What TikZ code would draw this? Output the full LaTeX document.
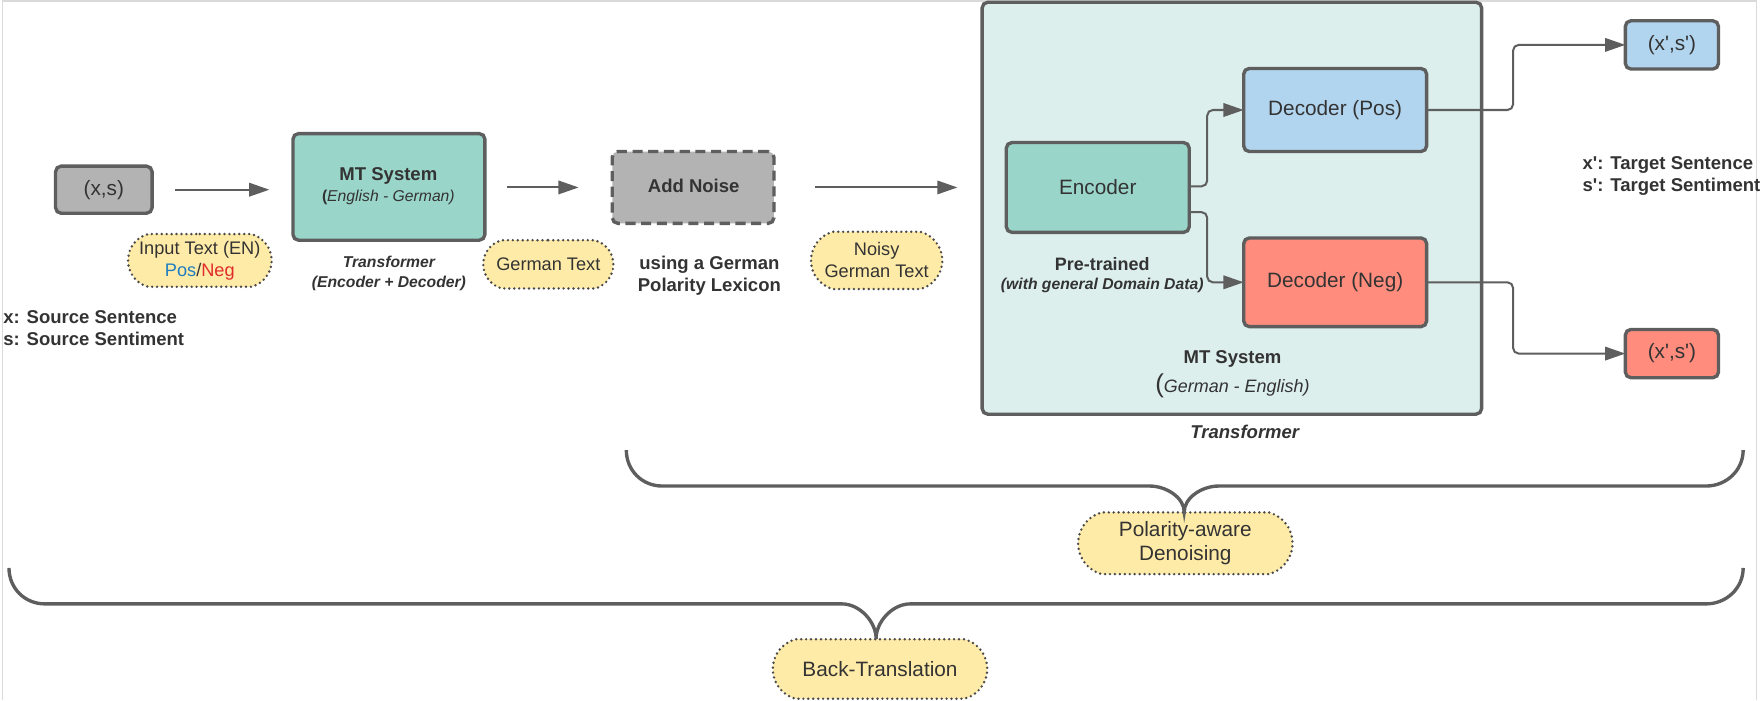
\documentclass[tikz,border=0pt]{standalone}
\usepackage{fontspec}
\setmainfont{Liberation Sans}[Ligatures=TeXOff]
\usetikzlibrary{arrows.meta,shapes.misc}
\definecolor{lineC}{HTML}{5E5E5E}
\definecolor{dotC}{HTML}{4A4A4A}
\definecolor{txtC}{HTML}{333333}
\definecolor{grayF}{HTML}{B3B3B3}
\definecolor{tealF}{HTML}{9AD5CA}
\definecolor{contF}{HTML}{DCEFEC}
\definecolor{blueF}{HTML}{B2D5EF}
\definecolor{redF}{HTML}{FF8C7D}
\definecolor{yelF}{HTML}{FFEBA8}
\definecolor{posC}{HTML}{1F7DBF}
\definecolor{negC}{HTML}{E02B2B}
\definecolor{frameC}{HTML}{DADADA}
\begin{document}
\begin{tikzpicture}[x=1pt,y=-1pt,
  box/.style={draw=lineC, line width=3pt, rounded corners=5pt, inner sep=0pt, outer sep=0pt, text=txtC, align=center},
  capsule/.style={rounded rectangle, rounded rectangle arc length=150, draw=dotC, fill=yelF, line width=2.4pt, dash pattern=on 0pt off 4.4pt, line cap=round, inner sep=0pt, outer sep=0pt, text=txtC, align=center},
  arr/.style={draw=lineC, line width=1.8pt, -{Triangle[length=18pt,width=12pt]}},
  bracepath/.style={draw=lineC, line width=3pt},
  lbl/.style={inner sep=0pt, outer sep=0pt, text=txtC, align=center},
  tbig/.style={font=\fontsize{18.5}{22}\selectfont},
  tmid/.style={font=\fontsize{16.2}{19.5}\selectfont},
  tbold/.style={font=\bfseries\fontsize{16.5}{19.5}\selectfont},
  tbi/.style={font=\bfseries\itshape\fontsize{14}{17.4}\selectfont},
  tbibig/.style={font=\bfseries\itshape\fontsize{16.5}{19.5}\selectfont},
]
\useasboundingbox (0,0) rectangle (1568,624);
% faint frame of the screenshot
\draw[frameC, line width=1.2pt] (2,624) -- (2,1) -- (1565,1) -- (1565,624);

% ---- left part
\node[box, fill=grayF, minimum width=86pt, minimum height=42pt, tbig] (xs) at (92.5,169) {(x,s)};
\node[box, fill=tealF, minimum width=171pt, minimum height=95pt] (mt1) at (346.5,166.5) {};
\node[lbl, tbold] (mt1a) at (346,157) {MT System};
\node[lbl, font=\fontsize{14}{17}\selectfont] (mt1b) at (346,175.5) {{\bfseries(}\itshape English - German)};
\node[lbl, tbi] (tr1) at (346.5,243.5) {Transformer\\(Encoder + Decoder)};
\node[capsule, minimum width=128pt, minimum height=47pt, tmid] (inp) at (178,232) {Input Text (EN)\\\textcolor{posC}{Pos}/\textcolor{negC}{Neg}};
\node[lbl, tbold, anchor=west, align=left] (src) at (3,292) {x: Source Sentence\\s: Source Sentiment};

\node[capsule, minimum width=116pt, minimum height=43pt, tmid] (ger) at (488.5,235.5) {German Text};
\node[box, fill=grayF, dash pattern=on 9pt off 5pt, minimum width=144pt, minimum height=64pt] (noise) at (617.5,167) {};
\node[lbl, tbold] (noiset) at (618,165.5) {Add Noise};
\node[lbl, tbold] (lex) at (632,245.5) {using a German\\Polarity Lexicon};
\node[capsule, minimum width=117pt, minimum height=51pt, tmid] (noisy) at (781,232) {Noisy\\German Text};

% ---- container
\node[box, fill=contF, minimum width=445pt, minimum height=367pt] (cont) at (1097.5,185.5) {};
\node[box, fill=tealF, minimum width=163pt, minimum height=80pt, tbig] (enc) at (978,167) {Encoder};
\node[box, fill=blueF, minimum width=163pt, minimum height=74pt, tbig] (decpos) at (1189.5,98) {Decoder (Pos)};
\node[box, fill=redF, minimum width=163pt, minimum height=79pt, tbig] (decneg) at (1189.5,251.5) {Decoder (Neg)};
\node[lbl, font=\bfseries\fontsize{16}{19}\selectfont] (pre) at (982,235.6) {Pre-trained};
\node[lbl, tbi] (pre2) at (982,254) {(with general Domain Data)};
\node[lbl, tbold] (mt2a) at (1098,320) {MT System};
\node[lbl, font=\fontsize{16}{19}\selectfont] (mt2b) at (1098,343.5) {{\fontsize{23}{23}\selectfont(}\itshape German - English)};
\node[lbl, tbibig] (tr2) at (1109,385) {Transformer};

% ---- outputs
\node[box, fill=blueF, minimum width=83pt, minimum height=43pt, tbig] (outpos) at (1489.5,40) {(x',s')};
\node[box, fill=redF, minimum width=83pt, minimum height=43pt, tbig] (outneg) at (1489.5,315) {(x',s')};
\node[lbl, tbold, anchor=west, align=left] (tgt) at (1410,156.5) {x': Target Sentence\\s': Target Sentiment};

% ---- connectors
\draw[arr] ([xshift=20.5pt]xs.east) -- ([xshift=-21pt]xs.east -| mt1.west);
\draw[arr] ([xshift=20pt]mt1.east |- noise.west) -- ([xshift=-30pt]noise.west);
\draw[arr] ([xshift=37pt]noise.east) -- ([xshift=-22pt]noise.east -| cont.west);
\draw[arr, rounded corners=5pt] ([yshift=1pt]enc.east) -- ++(16,0) |- (decpos.west);
\draw[arr, rounded corners=5pt] ([yshift=-22pt]enc.east) -- ++(16,0) |- (decneg.west);
\draw[arr, rounded corners=5pt] (decpos.east) -- ++(77,0) |- (outpos.west);
\draw[arr, rounded corners=5pt] (decneg.east) -- ++(77,0) |- (outneg.west);

% ---- braces
\node[capsule, minimum width=191pt, minimum height=55pt, tbig] (pol) at (1056,484) {Polarity-aware\\Denoising};
\node[capsule, minimum width=191pt, minimum height=53pt, tbig] (back) at (784,596) {Back-Translation};
\draw[bracepath] (558,401) .. controls (558,419) and (572,433) .. (590,433) -- (1024,433)
  .. controls (1040,433) and (1055,444) .. (1055,456)
  .. controls (1055,444) and (1070,433) .. (1086,433) -- (1520,433)
  .. controls (1538,433) and (1553,419) .. (1553,401);
\draw[bracepath] (8,506) .. controls (8,524) and (22,538) .. (40,538) -- (750,538)
  .. controls (766,538) and (780.5,554) .. (780.5,569)
  .. controls (780.5,554) and (795,538) .. (811,538) -- (1520,538)
  .. controls (1538,538) and (1553,524) .. (1553,506);
\end{tikzpicture}
\end{document}
